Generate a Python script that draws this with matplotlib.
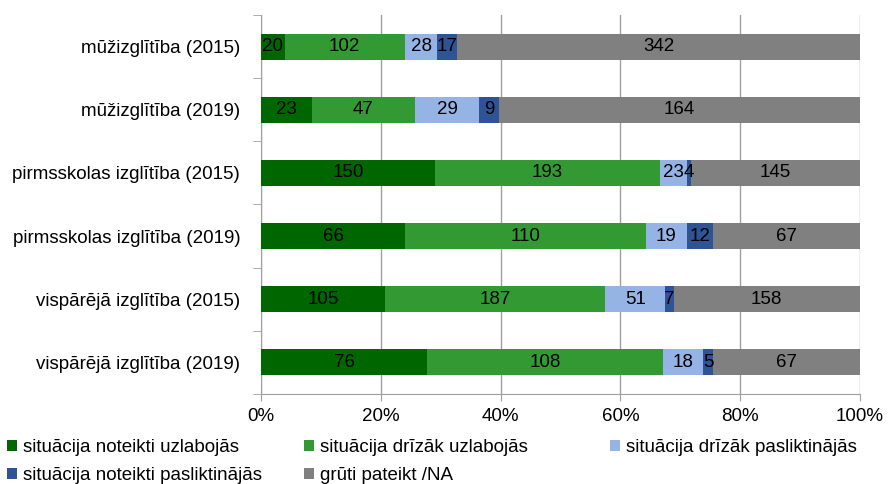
import matplotlib
matplotlib.use("Agg")
import matplotlib.pyplot as plt
import numpy as np
from matplotlib.ticker import PercentFormatter

plt.rcParams['font.family'] = ['Liberation Sans', 'DejaVu Sans']

categories = [
    "mūžizglītība (2015)",
    "mūžizglītība (2019)",
    "pirmsskolas izglītība (2015)",
    "pirmsskolas izglītība (2019)",
    "vispārējā izglītība (2015)",
    "vispārējā izglītība (2019)",
]
series_names = [
    "situācija noteikti uzlabojās",
    "situācija drīzāk uzlabojās",
    "situācija drīzāk pasliktinājās",
    "situācija noteikti pasliktinājās",
    "grūti pateikt /NA",
]
noteikti_uzl = [20, 23, 150, 66, 105, 76]
drizak_uzl = [102, 47, 193, 110, 187, 108]
drizak_pasl = [28, 29, 23, 19, 51, 18]
noteikti_pasl = [17, 9, 4, 12, 7, 5]
gruti = [342, 164, 145, 67, 158, 67]
colors = ["#006600", "#339933", "#95B3E5", "#2E5496", "#808080"]

data = np.array([noteikti_uzl, drizak_uzl, drizak_pasl, noteikti_pasl, gruti], dtype=float)
totals = data.sum(axis=0)
shares = data / totals

FS = 13.5
fig = plt.figure(figsize=(8.92, 4.84), dpi=100)
ax = fig.add_axes([0.2926, 0.186, 0.6714, 0.783])

y = np.arange(len(categories))
left = np.zeros(len(categories))
for i, name in enumerate(series_names):
    ax.barh(y, shares[i], left=left, height=0.41, color=colors[i], label=name, zorder=3)
    for j in range(len(categories)):
        ax.text(left[j] + shares[i][j] / 2, y[j], f"{int(data[i][j])}",
                ha='center', va='center', fontsize=FS, color='black', zorder=4)
    left += shares[i]

ax.set_xlim(0, 1)
ax.set_ylim(len(categories) - 0.5, -0.5)
ax.set_yticks(y)
ax.set_yticklabels(categories, fontsize=FS)
ax.set_yticks(np.arange(-0.5, len(categories), 1), minor=True)
ax.tick_params(axis='y', which='major', length=0, pad=15)
ax.tick_params(axis='y', which='minor', length=6, color='#a0a0a0')
ax.set_xticks(np.linspace(0, 1, 6))
ax.xaxis.set_major_formatter(PercentFormatter(1.0, decimals=0))
ax.tick_params(axis='x', labelsize=FS, length=5, color='#a0a0a0', pad=5)
ax.grid(axis='x', color='#a0a0a0', linewidth=1, zorder=0)
for s in ['top', 'right']:
    ax.spines[s].set_visible(False)
for s in ['left', 'bottom']:
    ax.spines[s].set_color('#a0a0a0')

handles, labels = ax.get_legend_handles_labels()
columns = [[0, 3], [1, 4], [2]]
col_x = [0.008, 0.341, 0.684]
for cx, idxs in zip(col_x, columns):
    fig.legend([handles[k] for k in idxs], [labels[k] for k in idxs], ncol=1,
               loc='upper left', bbox_to_anchor=(cx, 0.092),
               frameon=False, fontsize=FS, handlelength=0.55, handleheight=0.55,
               handletextpad=0.3, labelspacing=0.55, borderaxespad=0, borderpad=0)

fig.savefig("out.png", dpi=100)
